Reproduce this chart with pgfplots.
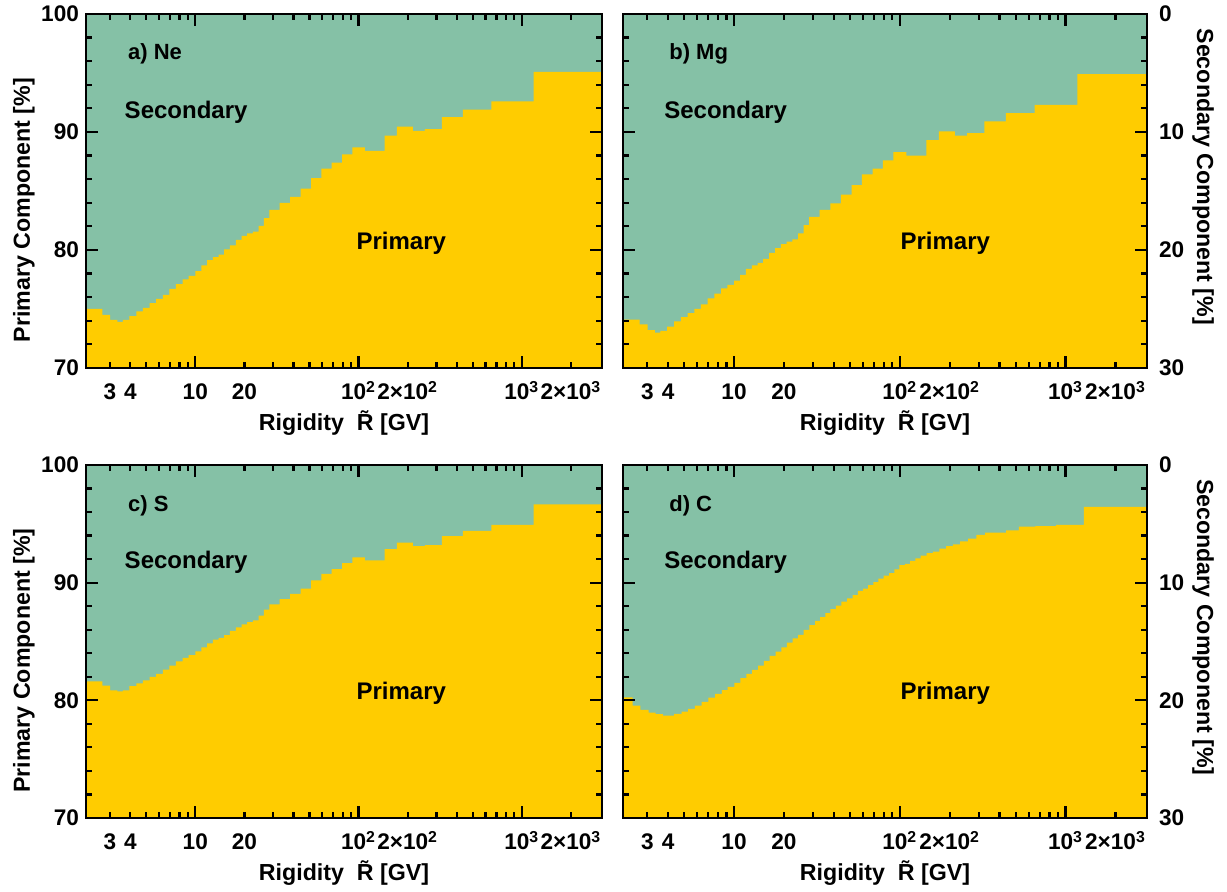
\documentclass[border=0pt]{standalone}
\usepackage{fontspec}
\setmainfont{Liberation Sans}
\usepackage{pgfplots}
\usepackage{pgfplotstable}
\pgfplotsset{compat=1.18}
\definecolor{cgreen}{RGB}{133,193,166}
\definecolor{cyellow}{RGB}{255,204,0}

\pgfplotstableread{
R P
2.14 75.0
2.70 74.5
3.01 74.07
3.33 73.9
3.60 74.07
3.95 74.4
4.36 74.8
4.78 75.1
5.25 75.5
5.76 75.85
6.32 76.2
6.94 76.7
7.61 77.1
8.36 77.5
9.11 77.8
10.0 78.2
10.9 78.7
11.8 79.15
12.8 79.4
13.9 79.6
15.0 80.05
16.3 80.4
17.7 80.85
19.2 81.2
20.8 81.4
22.5 81.55
24.4 82.05
26.3 82.7
28.4 83.4
32.9 84.0
38.1 84.5
44.2 85.2
51.2 86.1
59.1 86.9
68.5 87.4
79.2 88.1
91.5 88.7
109.5 88.4
144.7 89.7
172 90.45
215 90.1
255 90.25
324 91.25
436 91.9
651 92.6
1180 95.1
3100 95.1
}\dataA

\pgfplotstableread{
R P
2.14 74.1
2.70 73.7
3.01 73.2
3.33 73.0
3.60 73.15
3.95 73.5
4.36 73.95
4.78 74.3
5.25 74.65
5.76 75.0
6.32 75.4
6.94 75.9
7.61 76.3
8.36 76.75
9.11 77.05
10.0 77.4
10.9 77.9
11.8 78.4
12.8 78.7
13.9 78.9
15.0 79.25
16.3 79.75
17.7 80.15
19.2 80.5
20.8 80.7
22.5 80.9
24.4 81.4
26.3 82.1
28.4 82.8
32.9 83.4
38.1 83.95
44.2 84.7
51.2 85.5
59.1 86.4
68.5 86.9
79.2 87.6
91.5 88.3
109.5 88.0
144.7 89.3
172 90.05
215 89.7
255 89.9
324 90.9
436 91.6
651 92.3
1180 94.9
3100 94.9
}\dataB

\pgfplotstableread{
R P
2.14 81.6
2.70 81.25
3.01 80.85
3.33 80.75
3.60 80.85
3.95 81.2
4.36 81.45
4.78 81.7
5.25 82.0
5.76 82.25
6.32 82.6
6.94 82.95
7.61 83.3
8.36 83.6
9.11 83.85
10.0 84.15
10.9 84.5
11.8 84.85
12.8 85.15
13.9 85.3
15.0 85.55
16.3 85.9
17.7 86.2
19.2 86.45
20.8 86.65
22.5 86.8
24.4 87.2
26.3 87.7
28.4 88.15
32.9 88.6
38.1 89.05
44.2 89.5
51.2 90.2
59.1 90.75
68.5 91.15
79.2 91.65
91.5 92.15
109.5 91.9
144.7 92.85
172 93.4
215 93.1
255 93.2
324 93.95
436 94.4
651 94.9
1180 96.65
3100 96.65
}\dataC

\pgfplotstableread{
R P
2.14 80.26
2.449 79.55
2.728 79.18
3.051 78.96
3.366 78.82
3.73 78.7
4.351 78.84
4.824 79.04
5.296 79.27
5.814 79.55
6.383 79.86
7.008 80.23
7.695 80.54
8.449 80.86
9.147 81.14
10.04 81.48
10.92 81.88
11.88 82.24
12.87 82.58
13.99 82.95
15.15 83.35
16.4 83.77
17.84 84.14
19.32 84.5
20.82 84.9
22.54 85.27
24.4 85.56
26.3 85.98
28.47 86.4
30.82 86.75
33.05 87.06
35.61 87.4
38.19 87.74
41.16 88.05
44.36 88.38
48.05 88.67
52.0 88.95
55.8 89.3
60.1 89.5
64.5 89.8
69.2 90.05
74.2 90.35
79.95 90.6
86.15 90.8
92.8 91.13
99.6 91.5
107.3 91.6
115.6 91.85
124.0 92.07
133.6 92.3
145.4 92.5
158.1 92.63
173.6 92.9
190.6 93.1
209.3 93.25
230.9 93.5
258.2 93.74
290.2 94.05
327.7 94.25
437.8 94.45
522.8 94.76
657.5 94.8
878.3 94.9
1288 96.43
3100 96.43
}\dataD

\newcommand{\txt}{\fontsize{12}{14}\selectfont\bfseries}
\newcommand{\ptxt}{\fontsize{11}{13}\selectfont\bfseries}
\newcommand{\lbl}{\fontsize{11.6}{14}\selectfont\bfseries}

\pgfplotsset{
  scale only axis,
  xmin=2.14, xmax=3100, ymin=70, ymax=100,
  axis on top,
  axis background/.style={fill=cgreen},
  axis line style={line width=1.4pt},
  every tick/.style={black, line width=1.1pt},
  tick align=inside,
  major tick length=6pt,
  minor tick length=3pt,
  xtick={10,100,1000}, xticklabels={},
  minor xtick={3,4,5,6,7,8,9,20,30,40,50,60,70,80,90,200,300,400,500,600,700,800,900,2000},
  extra x ticks={3,4,10,20,100,200,1000,2000},
  extra x tick labels={3,4,10,20,10\textsuperscript{2},2×10\textsuperscript{2},10\textsuperscript{3},2×10\textsuperscript{3}},
  extra x tick style={major tick length=0pt},
  ytick={70,80,90,100},
  minor ytick={72,74,76,78,82,84,86,88,92,94,96,98},
  tick label style={font=\fontsize{11.3}{13}\selectfont\bfseries},
  x tick label style={anchor=base, yshift=-16pt},
  xlabel={Rigidity\ \ \~{R} [GV]},
  every axis x label/.style={at={([yshift=-31.5pt]axis description cs:0.5,0)}, anchor=base, font=\lbl},
}

\begin{document}
\begin{tikzpicture}
\useasboundingbox (0,0) rectangle (613.5pt,446pt);
% a) Ne
\begin{axis}[xmode=log, at={(43pt,262pt)}, anchor=south west, width=258pt, height=177pt,
  xtick pos=both, ytick pos=both,
  yticklabels={70,80,90,100},
  ylabel={Primary Component [\%]},
  every axis y label/.style={at={([xshift=-31pt]axis description cs:0,0.446)}, anchor=center, rotate=90, font=\lbl}]
\addplot[fill=cyellow, draw=none, const plot] table[x=R,y=P]{\dataA} \closedcycle;
\node[anchor=west, font=\ptxt] at (rel axis cs:0.068,0.887) {a) Ne};
\node[font=\txt] at (rel axis cs:0.194,0.723) {Secondary};
\node[font=\txt] at (rel axis cs:0.611,0.353) {Primary};
\end{axis}
% b) Mg
\begin{axis}[xmode=log, at={(311.5pt,262pt)}, anchor=south west, width=262pt, height=177pt,
  yticklabel pos=right, xtick pos=both, ytick pos=both,
  yticklabels={30,20,10,0},
  y tick label style={xshift=2.5pt},
  ylabel={Secondary Component [\%]},
  every axis y label/.style={at={([xshift=28pt]axis description cs:1,0.54)}, anchor=center, rotate=-90, font=\lbl}]
\addplot[fill=cyellow, draw=none, const plot] table[x=R,y=P]{\dataB} \closedcycle;
\node[anchor=west, font=\ptxt] at (rel axis cs:0.075,0.887) {b) Mg};
\node[font=\txt] at (rel axis cs:0.196,0.723) {Secondary};
\node[font=\txt] at (rel axis cs:0.615,0.353) {Primary};
\end{axis}
% c) S
\begin{axis}[xmode=log, at={(43pt,37pt)}, anchor=south west, width=258pt, height=176.5pt,
  xtick pos=both, ytick pos=both,
  yticklabels={70,80,90,100},
  ylabel={Primary Component [\%]},
  every axis y label/.style={at={([xshift=-31pt]axis description cs:0,0.446)}, anchor=center, rotate=90, font=\lbl}]
\addplot[fill=cyellow, draw=none, const plot] table[x=R,y=P]{\dataC} \closedcycle;
\node[anchor=west, font=\ptxt] at (rel axis cs:0.068,0.884) {c) S};
\node[font=\txt] at (rel axis cs:0.194,0.725) {Secondary};
\node[font=\txt] at (rel axis cs:0.611,0.354) {Primary};
\end{axis}
% d) C
\begin{axis}[xmode=log, at={(311.5pt,37pt)}, anchor=south west, width=262pt, height=176.5pt,
  yticklabel pos=right, xtick pos=both, ytick pos=both,
  yticklabels={30,20,10,0},
  y tick label style={xshift=2.5pt},
  ylabel={Secondary Component [\%]},
  every axis y label/.style={at={([xshift=28pt]axis description cs:1,0.54)}, anchor=center, rotate=-90, font=\lbl}]
\addplot[fill=cyellow, draw=none, const plot] table[x=R,y=P]{\dataD} \closedcycle;
\node[anchor=west, font=\ptxt] at (rel axis cs:0.075,0.884) {d) C};
\node[font=\txt] at (rel axis cs:0.196,0.725) {Secondary};
\node[font=\txt] at (rel axis cs:0.615,0.354) {Primary};
\end{axis}
\end{tikzpicture}
\end{document}
